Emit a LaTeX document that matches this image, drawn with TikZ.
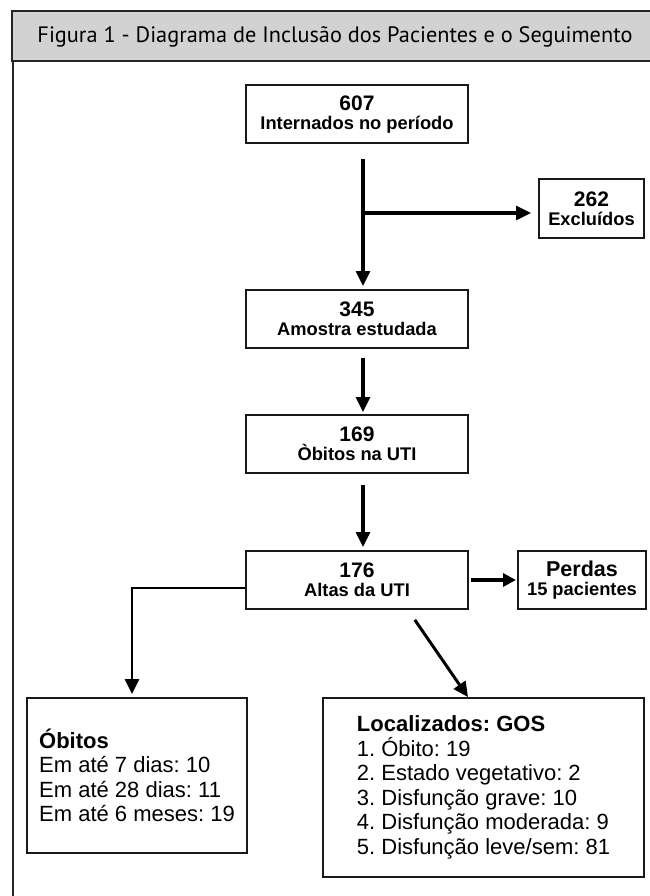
\documentclass[tikz,border=0pt]{standalone}
\usepackage{fontspec}
\setmainfont{Liberation Sans}
\newfontfamily\titlefont{PT Sans}
\usetikzlibrary{arrows.meta}

\newcommand{\bignum}[1]{{\fontsize{21}{19}\selectfont #1}}

\begin{document}
\frenchspacing
\begin{tikzpicture}[x=1pt,y=-1pt,
    box/.style={draw=black!90, line width=2pt, minimum width=222pt,
      minimum height=58pt, align=center, inner sep=0pt,
      font=\bfseries\fontsize{18.3}{19}\selectfont},
    listbox/.style={draw=black!90, line width=1.8pt, align=left,
      inner sep=0pt, font=\fontsize{22}{24.5}\selectfont},
    arr/.style={line width=3.2pt, -{Triangle[length=15pt,width=14pt]}},
    fatarr/.style={line width=4.5pt, -{Triangle[length=13pt,width=13pt]}}]
    \useasboundingbox (0,0) rectangle (649,896);

    % frame and title bar
    \fill[gray!35] (12,11) rectangle (660,61);
    \draw[line width=2.5pt, black!85] (660,11) -- (12,11) -- (12,61) -- (660,61);
    \draw[line width=2pt, black!85] (12.5,61) -- (12.5,900);
    \node[font=\titlefont\fontsize{22.3}{24}\selectfont] (title) at (335,37)
    {Figura 1 - Diagrama de Inclusão dos Pacientes e o Seguimento};

    % boxes
    \node[box] (n607) at (357,114.5) {\bignum{607}\\Internados no período};
    \node[box, minimum width=105pt] (n262) at (591.5,208.5)
    {\bignum{262}\\Excluídos};
    \node[box] (n345) at (357,319) {\bignum{345}\\Amostra estudada};
    \node[box] (n169) at (357,444) {\bignum{169}\\Òbitos na UTI};
    \node[box] (n176) at (357,580) {\bignum{176}\\Altas da UTI};
    \node[box, minimum width=128pt] (perdas) at (582,580)
    {{\fontsize{21.5}{19}\selectfont Perdas}\\15 pacientes};
    \node[listbox, minimum width=220pt, minimum height=155pt] (obitos)
    at (137,775.5)
    {\textbf{Óbitos}\\Em até 7 dias: 10\\Em até 28 dias: 11\\Em até 6 meses: 19};
    \node[listbox, minimum width=321pt, minimum height=179pt] (gos)
    at (483.5,787.5)
    {\textbf{Localizados: GOS}\\1. Óbito: 19\\2. Estado vegetativo: 2\\
     3. Disfunção grave: 10\\4. Disfunção moderada: 9\\
     5. Disfunção leve/sem: 81};

    % connectors
    \coordinate (split) at (363,213);
    \draw[arr, shorten <=15pt, shorten >=3pt]
    ([xshift=6pt]n607.south) -- ([xshift=6pt]n345.north);
    \draw[arr, shorten >=7pt] (split) -- (split -| n262.west);
    \draw[arr, shorten <=9pt, shorten >=2pt]
    ([xshift=6pt]n345.south) -- ([xshift=6pt]n169.north);
    \draw[arr, shorten <=11pt, shorten >=3pt]
    ([xshift=6pt]n169.south) -- ([xshift=6pt]n176.north);
    \draw[fatarr, shorten <=2pt, shorten >=1pt] (n176.east) -- (perdas.west);
    \draw[arr, line width=2.6pt, shorten >=3pt]
    ([yshift=-8pt]n176.west) -| ([xshift=-5pt]obitos.north);
    \draw[arr, line width=3pt, shorten <=12pt]
    ([xshift=51pt]n176.south) -- ([xshift=-15.5pt]gos.north);
\end{tikzpicture}
\end{document}
